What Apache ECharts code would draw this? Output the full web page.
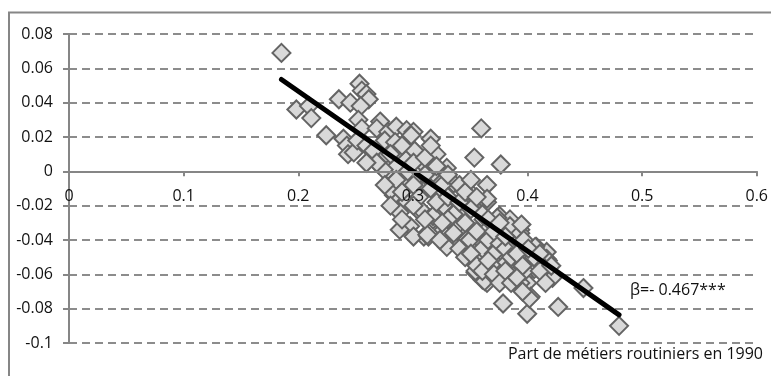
<!DOCTYPE html>
<html>
<head>
<meta charset="utf-8">
<script src="https://cdn.jsdelivr.net/npm/echarts@6/dist/echarts.min.js"></script>
<style>html,body{margin:0;padding:0;background:#fff;}#c{width:771px;height:376px;}</style>
</head>
<body>
<div id="c"></div>
<script>
// Part de métiers routiniers en 1990 (x) vs variation (y)
const xValues = [
0.185,0.198,0.209,0.211,0.224,0.235,0.245,0.253,0.255,0.259,0.261,0.254,0.252,0.255,0.239,0.242,0.243,0.248,0.251,0.259,
0.265,0.271,0.268,0.278,0.285,0.294,0.300,0.275,0.284,0.291,0.299,0.270,0.278,0.285,0.294,0.315,
0.359,0.353,0.376,0.364,0.298,0.301,0.320,0.329,0.309,0.317,0.335,0.344,0.352,0.364,0.375,0.384,0.393,0.370,0.361,0.346,
0.335,0.323,0.312,0.300,0.294,0.306,0.317,0.329,0.344,0.358,0.375,0.309,0.297,
0.288,0.300,0.313,0.326,0.364,0.373,0.391,0.407,0.416,0.418,0.405,0.396,0.387,0.378,0.354,0.360,0.364,0.346,0.341,0.358,
0.370,0.381,0.393,0.399,0.402,0.378,0.399,0.329,0.335,0.346,0.317,0.326,0.306,0.288,0.283,0.280,0.294,0.274,0.268,0.259,
0.312,0.323,0.354,0.362,0.367,0.393,0.401,0.384,0.393,0.406,0.416,0.364,0.349,
0.394,0.396,0.417,0.409,0.421,0.426,0.448,0.479,0.397,
0.285,0.290,0.295,0.300,0.305,0.310,0.315,0.320,0.325,0.330,0.335,0.340,0.345,0.350,0.355,0.360,0.365,0.370,0.375,0.380,
0.385,0.390,0.395,0.330,0.325,0.310,0.300,0.290,0.280,0.275,0.280,0.290,0.300,0.310,0.320,0.315,0.330,0.340,0.345,0.350,
0.355,0.360,0.365,0.370,0.375,0.380,0.340,0.345,0.350,0.355,0.360,0.365,0.370,0.375,0.380,0.385,0.390,0.395,0.405,0.410,
0.415,0.420,0.400,0.410
];
const yValues = [
0.069,0.036,0.038,0.031,0.021,0.042,0.040,0.051,0.047,0.045,0.042,0.038,0.030,0.025,0.019,0.015,0.010,0.011,0.018,0.015,
0.012,0.029,0.025,0.023,0.026,0.024,0.023,0.018,0.017,0.015,0.013,0.004,0.001,0.003,0.007,0.019,
0.025,0.008,0.004,-0.008,0.021,0.012,0.010,0.002,0.004,-0.001,-0.007,-0.011,-0.014,-0.018,-0.026,-0.028,-0.034,-0.032,-0.028,-0.024,
-0.020,-0.014,-0.009,-0.005,-0.018,-0.024,-0.028,-0.034,-0.038,-0.040,-0.040,-0.038,-0.032,
-0.034,-0.038,-0.038,-0.034,-0.016,-0.027,-0.040,-0.044,-0.047,-0.060,-0.057,-0.061,-0.061,-0.061,-0.059,-0.063,-0.065,-0.047,-0.042,-0.051,
-0.053,-0.053,-0.051,-0.065,-0.073,-0.077,-0.083,-0.044,-0.036,-0.040,-0.026,-0.020,-0.022,-0.024,-0.014,-0.011,-0.007,0.001,0.005,0.005,
-0.037,-0.040,-0.058,-0.064,-0.059,-0.065,-0.074,-0.032,-0.036,-0.044,-0.051,-0.034,-0.040,
-0.031,-0.040,-0.052,-0.053,-0.062,-0.079,-0.068,-0.090,-0.058,
-0.005,-0.012,0.000,-0.008,-0.015,-0.002,-0.010,-0.018,-0.008,-0.015,-0.025,-0.018,-0.030,-0.022,-0.035,-0.045,-0.040,-0.048,-0.042,-0.045,
-0.050,-0.048,-0.055,-0.028,-0.030,-0.028,-0.020,-0.028,-0.020,-0.008,0.010,0.015,0.005,0.008,0.003,0.015,-0.002,-0.008,-0.012,-0.005,
-0.015,-0.025,-0.028,-0.035,-0.030,-0.038,-0.045,-0.050,-0.048,-0.055,-0.058,-0.052,-0.060,-0.065,-0.058,-0.065,-0.062,-0.070,-0.050,-0.058,
-0.065,-0.055,-0.045,-0.048
];
// regression line endpoints
const trendX = [0.185, 0.479];
const trendY = [0.0535, -0.0836];
const xTickLabels = ['0','0.1','0.2','0.3','0.4','0.5','0.6'];
const yTickLabels = ['-0.1','-0.08','-0.06','-0.04','-0.02','0','0.02','0.04','0.06','0.08'];
const xAxisTitle = 'Part de métiers routiniers en 1990';
const betaText = 'β=- 0.467***';

const points = xValues.map((x, i) => [x, yValues[i]]);
const trend = trendX.map((x, i) => [x, trendY[i]]);

const font = '"Open Sans", "Liberation Sans", sans-serif';
const axisColor = '#868686';

const xMin = 0, xMax = 0.6, yMin = -0.1, yMax = 0.08;
const W = 771, H = 376, gl = 69, gr = 13, gt = 34, gb = 33;
const plotH = H - gt - gb;
const zeroFromBottom = H - (gt + plotH * (yMax - 0) / (yMax - yMin));

const chart = echarts.init(document.getElementById('c'), null, {renderer: 'canvas'});
chart.setOption({
  animation: false,
  backgroundColor: '#ffffff',
  grid: [
    {left: gl, right: gr, top: gt, bottom: gb, containLabel: false},
    {left: gl, right: gr, top: gt, bottom: zeroFromBottom, containLabel: false}
  ],
  xAxis: [
    {type: 'value', gridIndex: 0, min: xMin, max: xMax, interval: 0.1, show: false},
    {
      type: 'value', gridIndex: 1, min: xMin, max: xMax, interval: 0.1, z: 5, position: 'bottom',
      axisLine: {show: true, onZero: false, lineStyle: {color: axisColor, width: 2}},
      axisTick: {show: true, length: 5, lineStyle: {color: axisColor, width: 2}},
      splitLine: {show: false},
      axisLabel: {
        margin: 17, color: '#111', fontFamily: font, fontSize: 16,
        formatter: v => xTickLabels[Math.round(v / 0.1)]
      }
    }
  ],
  yAxis: [
    {
      type: 'value', gridIndex: 0, min: yMin, max: yMax, interval: 0.02,
      axisLine: {show: true, onZero: false, lineStyle: {color: axisColor, width: 2}},
      axisTick: {show: true, length: 6, lineStyle: {color: axisColor, width: 2}},
      splitLine: {show: true, lineStyle: {color: '#8c8c8c', width: 2, type: [8, 5]}},
      axisLabel: {
        margin: 16, color: '#111', fontFamily: font, fontSize: 16,
        formatter: v => yTickLabels[Math.round((v + 0.1) / 0.02)]
      }
    },
    {type: 'value', gridIndex: 1, min: 0, max: yMax, show: false}
  ],
  series: [
    {
      type: 'scatter', xAxisIndex: 0, yAxisIndex: 0, data: points, symbol: 'diamond', symbolSize: 18, z: 2,
      itemStyle: {color: '#d9d9d9', borderColor: '#646464', borderWidth: 2, opacity: 1}
    },
    {
      type: 'line', xAxisIndex: 0, yAxisIndex: 0, data: trend, showSymbol: false, symbol: 'none', z: 4,
      lineStyle: {color: '#000', width: 5, cap: 'round'}
    }
  ],
  graphic: [
    {type: 'rect', shape: {x: 9, y: 12.5, width: 900, height: 500}, style: {fill: 'none', stroke: axisColor, lineWidth: 2}, silent: true},
    {type: 'text', x: 630, y: 290, style: {text: betaText, font: '16px ' + font, fill: '#111', textVerticalAlign: 'middle', textAlign: 'left'}},
    {type: 'text', x: 763, y: 354, style: {text: xAxisTitle, font: '16px ' + font, fill: '#111', textVerticalAlign: 'middle', textAlign: 'right'}}
  ]
});
</script>
</body>
</html>
